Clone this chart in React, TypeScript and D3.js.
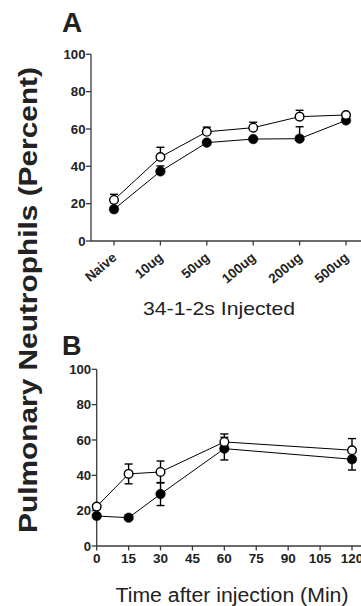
import React from 'react';
import * as d3 from 'd3';

const doseCategories = ['Naive', '10ug', '50ug', '100ug', '200ug', '500ug'];
const doseOpen = [22, 45, 58.5, 60.7, 66.6, 67.5];
const doseOpenErr = [3, 5.2, 2.5, 2.9, 3.4, 0.6];
const doseFilled = [17, 37.3, 52.7, 54.6, 54.8, 64.6];
const doseFilledErr = [0.6, 2.9, 0.6, 0.6, 6.4, 0.6];

const timePoints = [0, 15, 30, 60, 120];
const timeOpen = [22.3, 40.8, 41.9, 58.9, 54.2];
const timeOpenErr = [1, 5.6, 6.2, 4.5, 6.6];
const timeFilled = [17, 16, 29.4, 55.1, 49.1];
const timeFilledErr = [0.8, 0.8, 6.5, 6.4, 6.1];

const yTicks = [0, 20, 40, 60, 80, 100];
const timeTicks = [0, 15, 30, 45, 60, 75, 90, 105, 120];

const FONT = '"Liberation Sans", Arial, Helvetica, sans-serif';
const AXIS = '#3a3a3a';
const TXT = '#222';

type SeriesProps = {
  xs: number[];
  vals: number[];
  errs: number[];
  y: d3.ScaleLinear<number, number>;
  both: boolean;
};

function lineOf(xs: number[], vals: number[], y: d3.ScaleLinear<number, number>) {
  const gen = d3.line<number>().x((_, i) => xs[i]).y((v) => y(v));
  return gen(vals) || '';
}

function ErrorBars({ xs, vals, errs, y, both }: SeriesProps) {
  return (
    <g stroke="#000" strokeWidth={1.4} fill="none">
      {vals.map((v, i) => {
        const x = xs[i];
        const top = y(v + errs[i]);
        const bot = both ? y(v - errs[i]) : y(v);
        return (
          <g key={i}>
            <line x1={x} x2={x} y1={top} y2={bot} />
            <line x1={x - 4} x2={x + 4} y1={top} y2={top} />
            {both && <line x1={x - 4} x2={x + 4} y1={bot} y2={bot} />}
          </g>
        );
      })}
    </g>
  );
}

function Markers({ xs, vals, y, open }: { xs: number[]; vals: number[]; y: d3.ScaleLinear<number, number>; open: boolean }) {
  return (
    <g>
      {vals.map((v, i) => (
        <circle
          key={i}
          cx={xs[i]}
          cy={y(v)}
          r={open ? 4.3 : 4.8}
          fill={open ? '#fff' : '#000'}
          stroke="#000"
          strokeWidth={open ? 1.4 : 0.5}
        />
      ))}
    </g>
  );
}

function YAxis({ x, y }: { x: number; y: d3.ScaleLinear<number, number> }) {
  return (
    <g>
      <line x1={x} x2={x} y1={y(0)} y2={y(100)} stroke={AXIS} strokeWidth={1.3} />
      {yTicks.map((t) => (
        <g key={t}>
          <line x1={x - 5} x2={x} y1={y(t)} y2={y(t)} stroke={AXIS} strokeWidth={1.3} />
          <text
            x={x - 5.5}
            y={y(t) + 4.6}
            textAnchor="end"
            fontFamily={FONT}
            fontWeight="bold"
            fontSize={13.2}
            fill={TXT}
          >
            {t}
          </text>
        </g>
      ))}
    </g>
  );
}

export default function App() {
  const xA = d3.scalePoint<string>().domain(doseCategories).range([114, 346]);
  const yA = d3.scaleLinear().domain([0, 100]).range([241, 54.3]);
  const xB = d3.scaleLinear().domain([0, 120]).range([96.7, 352]);
  const yB = d3.scaleLinear().domain([0, 100]).range([546, 369.3]);

  const xsA = doseCategories.map((c) => xA(c) as number);
  const xsB = timePoints.map((t) => xB(t));

  return (
    <svg
      width={361}
      height={606}
      style={{ position: 'absolute', left: 0, top: 0, background: '#fff' }}
    >
      <rect width={361} height={606} fill="#fff" />
      {/* Shared y title */}
      <text
        transform="translate(37,300) rotate(-90)"
        textAnchor="middle"
        fontFamily={FONT}
        fontWeight="bold"
        fontSize={25}
        fill={TXT}
        textLength={466}
        lengthAdjust="spacingAndGlyphs"
      >
        Pulmonary Neutrophils (Percent)
      </text>

      {/* Panel A */}
      <text x={62} y={31.5} fontFamily={FONT} fontWeight="bold" fontSize={28} fill={TXT}>
        A
      </text>
      <YAxis x={91} y={yA} />
      <line x1={91} x2={361} y1={yA(0)} y2={yA(0)} stroke={AXIS} strokeWidth={1.3} />
      {doseCategories.map((c) => (
        <g key={c}>
          <line x1={xA(c)} x2={xA(c)} y1={yA(0)} y2={yA(0) + 4.5} stroke={AXIS} strokeWidth={1.3} />
          <text
            transform={`translate(${(xA(c) as number) + 3.5},${yA(0) + 18}) rotate(-40)`}
            textAnchor="end"
            fontFamily={FONT}
            fontWeight="bold"
            fontSize={13.5}
            fill={TXT}
          >
            {c}
          </text>
        </g>
      ))}
      <text
        x={219}
        y={315}
        textAnchor="middle"
        fontFamily={FONT}
        fontSize={18.5}
        fill={TXT}
        textLength={152}
        lengthAdjust="spacingAndGlyphs"
      >
        34-1-2s Injected
      </text>
      <path d={lineOf(xsA, doseFilled, yA)} fill="none" stroke="#000" strokeWidth={1} />
      <path d={lineOf(xsA, doseOpen, yA)} fill="none" stroke="#000" strokeWidth={1} />
      <ErrorBars xs={xsA} vals={doseFilled} errs={doseFilledErr} y={yA} both={false} />
      <ErrorBars xs={xsA} vals={doseOpen} errs={doseOpenErr} y={yA} both={false} />
      <Markers xs={xsA} vals={doseFilled} y={yA} open={false} />
      <Markers xs={xsA} vals={doseOpen} y={yA} open={true} />

      {/* Panel B */}
      <text x={62} y={355} fontFamily={FONT} fontWeight="bold" fontSize={27} fill={TXT}>
        B
      </text>
      <YAxis x={96.7} y={yB} />
      <line x1={96.7} x2={361} y1={yB(0)} y2={yB(0)} stroke={AXIS} strokeWidth={1.3} />
      {timeTicks.map((t) => (
        <g key={t}>
          <line x1={xB(t)} x2={xB(t)} y1={yB(0)} y2={yB(0) + 4.5} stroke={AXIS} strokeWidth={1.3} />
          <text
            x={xB(t)}
            y={yB(0) + 16.5}
            textAnchor="middle"
            fontFamily={FONT}
            fontWeight="bold"
            fontSize={13.5}
            fill={TXT}
          >
            {t}
          </text>
        </g>
      ))}
      <text
        x={232}
        y={602}
        textAnchor="middle"
        fontFamily={FONT}
        fontSize={19.5}
        fill={TXT}
        textLength={233}
        lengthAdjust="spacingAndGlyphs"
      >
        Time after injection (Min)
      </text>
      <path d={lineOf(xsB, timeFilled, yB)} fill="none" stroke="#000" strokeWidth={1} />
      <path d={lineOf(xsB, timeOpen, yB)} fill="none" stroke="#000" strokeWidth={1} />
      <ErrorBars xs={xsB} vals={timeFilled} errs={timeFilledErr} y={yB} both={true} />
      <ErrorBars xs={xsB} vals={timeOpen} errs={timeOpenErr} y={yB} both={true} />
      <Markers xs={xsB} vals={timeFilled} y={yB} open={false} />
      <Markers xs={xsB} vals={timeOpen} y={yB} open={true} />
    </svg>
  );
}
